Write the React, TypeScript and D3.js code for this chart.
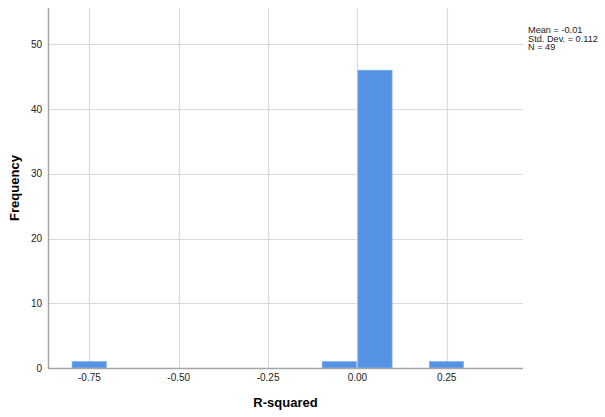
import React, { useRef, useEffect } from "react";
import { select, scaleLinear } from "d3";

const WIDTH = 605;
const HEIGHT = 417;
const MARGIN = { top: 8, right: 82, bottom: 49, left: 48 };

const COLOR_BAR = "#5594e4";
const COLOR_BAR_EDGE = "#7fb0ee";
const COLOR_GRID = "#d9d9d9";
const COLOR_AXIS = "#a6a6a6";
const COLOR_TEXT = "#222222";
const FONT = "Arial, 'Liberation Sans', sans-serif";

// histogram bins of R-squared
const binLower: number[] = [-0.8, -0.1, 0.0, 0.2];
const binUpper: number[] = [-0.7, 0.0, 0.1, 0.3];
const counts: number[] = [1, 1, 46, 1];

const xTicks: number[] = [-0.75, -0.5, -0.25, 0, 0.25];
const yTicks: number[] = [0, 10, 20, 30, 40, 50];
const xDomain: number[] = [-0.866, 0.4636];
const yDomain: number[] = [0, 55.6];

const stats: string[] = ["Mean = -0.01", "Std. Dev. = 0.112", "N = 49"];

export default function App() {
  const node = useRef<HTMLDivElement>(null);

  useEffect(() => {
    if (!node.current) return;
    node.current.innerHTML = "";

    const innerWidth = WIDTH - MARGIN.left - MARGIN.right;
    const innerHeight = HEIGHT - MARGIN.top - MARGIN.bottom;

    const root = select(node.current)
      .append("svg")
      .attr("width", WIDTH)
      .attr("height", HEIGHT)
      .style("display", "block")
      .style("background", "#fff");

    const g = root
      .append("g")
      .attr("transform", `translate(${MARGIN.left},${MARGIN.top})`);

    const x = scaleLinear().domain(xDomain).range([0, innerWidth]);
    const y = scaleLinear().domain(yDomain).range([innerHeight, 0]);

    // gridlines
    g.selectAll(".vgrid")
      .data(xTicks)
      .enter()
      .append("line")
      .attr("x1", (d) => Math.round(x(d)) + 0.5)
      .attr("x2", (d) => Math.round(x(d)) + 0.5)
      .attr("y1", 0)
      .attr("y2", innerHeight)
      .attr("stroke", COLOR_GRID)
      .attr("stroke-width", 1.2);

    g.selectAll(".hgrid")
      .data(yTicks.filter((d) => d > 0))
      .enter()
      .append("line")
      .attr("x1", 0)
      .attr("x2", innerWidth)
      .attr("y1", (d) => Math.round(y(d)) + 0.5)
      .attr("y2", (d) => Math.round(y(d)) + 0.5)
      .attr("stroke", COLOR_GRID)
      .attr("stroke-width", 1.2);

    // bars
    g.selectAll(".bar")
      .data(counts)
      .enter()
      .append("rect")
      .attr("x", (d, i) => x(binLower[i]) + 0.5)
      .attr("width", (d, i) => x(binUpper[i]) - x(binLower[i]) - 1.5)
      .attr("y", (d) => y(d))
      .attr("height", (d) => y(0) - y(d))
      .attr("fill", COLOR_BAR)
      .attr("stroke", COLOR_BAR_EDGE)
      .attr("stroke-width", 0.6);

    // axes lines
    g.append("line")
      .attr("x1", 0.5)
      .attr("x2", 0.5)
      .attr("y1", 0)
      .attr("y2", innerHeight)
      .attr("stroke", COLOR_AXIS)
      .attr("stroke-width", 1.5);

    g.append("line")
      .attr("x1", 0)
      .attr("x2", innerWidth)
      .attr("y1", innerHeight + 0.5)
      .attr("y2", innerHeight + 0.5)
      .attr("stroke", COLOR_AXIS)
      .attr("stroke-width", 1.5);

    // tick labels
    g.selectAll(".ytick")
      .data(yTicks)
      .enter()
      .append("text")
      .attr("x", -6)
      .attr("y", (d) => y(d))
      .attr("dy", "0.35em")
      .attr("text-anchor", "end")
      .attr("font-family", FONT)
      .attr("font-size", 10)
      .attr("fill", COLOR_TEXT)
      .text((d) => String(d));

    g.selectAll(".xtick")
      .data(xTicks)
      .enter()
      .append("text")
      .attr("x", (d) => x(d))
      .attr("y", innerHeight + 13)
      .attr("text-anchor", "middle")
      .attr("font-family", FONT)
      .attr("font-size", 10)
      .attr("fill", COLOR_TEXT)
      .text((d) => d.toFixed(2));

    // axis titles
    g.append("text")
      .attr("x", innerWidth / 2)
      .attr("y", innerHeight + 39)
      .attr("text-anchor", "middle")
      .attr("font-family", FONT)
      .attr("font-size", 13)
      .attr("font-weight", "bold")
      .attr("fill", "#000")
      .text("R-squared");

    g.append("text")
      .attr(
        "transform",
        `translate(${-MARGIN.left + 19},${innerHeight / 2}) rotate(-90)`
      )
      .attr("text-anchor", "middle")
      .attr("font-family", FONT)
      .attr("font-size", 13)
      .attr("font-weight", "bold")
      .attr("fill", "#000")
      .text("Frequency");

    // summary stats
    root
      .selectAll(".stat")
      .data(stats)
      .enter()
      .append("text")
      .attr("x", MARGIN.left + innerWidth + 5)
      .attr("y", (d, i) => 33 + i * 8.5)
      .attr("font-family", FONT)
      .attr("font-size", 9.2)
      .attr("fill", COLOR_TEXT)
      .text((d) => d);
  }, []);

  return (
    <div
      ref={node}
      style={{ position: "absolute", left: 0, top: 0, width: WIDTH, height: HEIGHT }}
    />
  );
}
